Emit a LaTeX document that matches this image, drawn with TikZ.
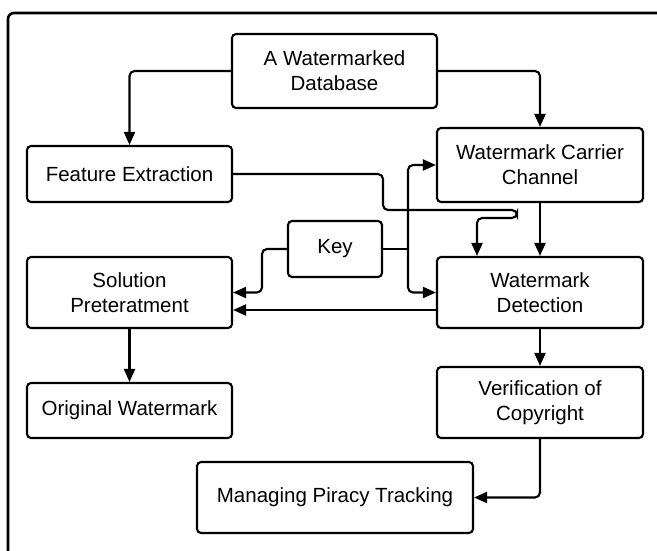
\documentclass[tikz,border=0pt]{standalone}
\usepackage{fontspec}
\setmainfont{Liberation Sans}
\usetikzlibrary{arrows.meta}
\begin{document}
\begin{tikzpicture}[x=1pt,y=-1pt,
  box/.style={draw, line width=2.1pt, rounded corners=4pt, align=center,
    font=\fontsize{20.5}{25}\selectfont, inner sep=0pt},
  arr/.style={line width=2.1pt, rounded corners=5pt, -{Triangle[length=13pt,width=11pt]}},
  ln/.style={line width=2.1pt, rounded corners=5pt}]
\useasboundingbox (0,0) rectangle (657,550);
\draw[line width=2.6pt, rounded corners=6pt] (8,560) -- (8,13) -- (667,13);
\node[box, minimum width=205pt, minimum height=74pt] (db) at (334.5,71) {A Watermarked\\Database};
\node[box, minimum width=205pt, minimum height=56pt] (fe) at (129.5,174) {Feature Extraction};
\node[box, minimum width=206pt, minimum height=74pt] (wc) at (540,165) {Watermark Carrier\\Channel};
\node[box, minimum width=94pt, minimum height=56pt] (key) at (335,249) {Key};
\node[box, minimum width=205pt, minimum height=71pt] (sp) at (129.5,292.5) {Solution\\Preteratment};
\node[box, minimum width=206pt, minimum height=71pt] (wd) at (540,292.5) {Watermark\\Detection};
\node[box, minimum width=205pt, minimum height=55pt] (ow) at (129.5,410.5) {Original Watermark};
\node[box, minimum width=206pt, minimum height=71pt] (vc) at (540,402.5) {Verification of\\Copyright};
\node[box, minimum width=276pt, minimum height=71pt] (mp) at (335,497.5) {Managing Piracy Tracking};
% coordinates
\coordinate (kj) at (408,249);
\coordinate (fx) at (477,218);
% connectors
\draw[arr] (db.west) -| (fe.north);
\draw[arr] (db.east) -| (wc.north);
\draw[arr] (fe.east) -- (383,174) -- (383,210) -- (517,210) -- (517,218) -- (fx) -- (fx |- wd.north);
\draw[ln] (key.east) -- (kj);
\draw[arr] (kj) |- (wc.west);
\draw[arr] (kj) |- (wd.west);
\draw[arr] (key.west) -- (262,249) |- (sp.east);
\draw[arr] ([yshift=-17.5pt]wd.west) -- ([yshift=-17.5pt]sp.east);
\draw[arr] (sp.south) -- (ow.north);
\draw[arr] (wc.south) -- (wd.north);
\draw[arr] (wd.south) -- (vc.north);
\draw[arr] (vc.south) |- (mp.east);
\end{tikzpicture}
\end{document}
